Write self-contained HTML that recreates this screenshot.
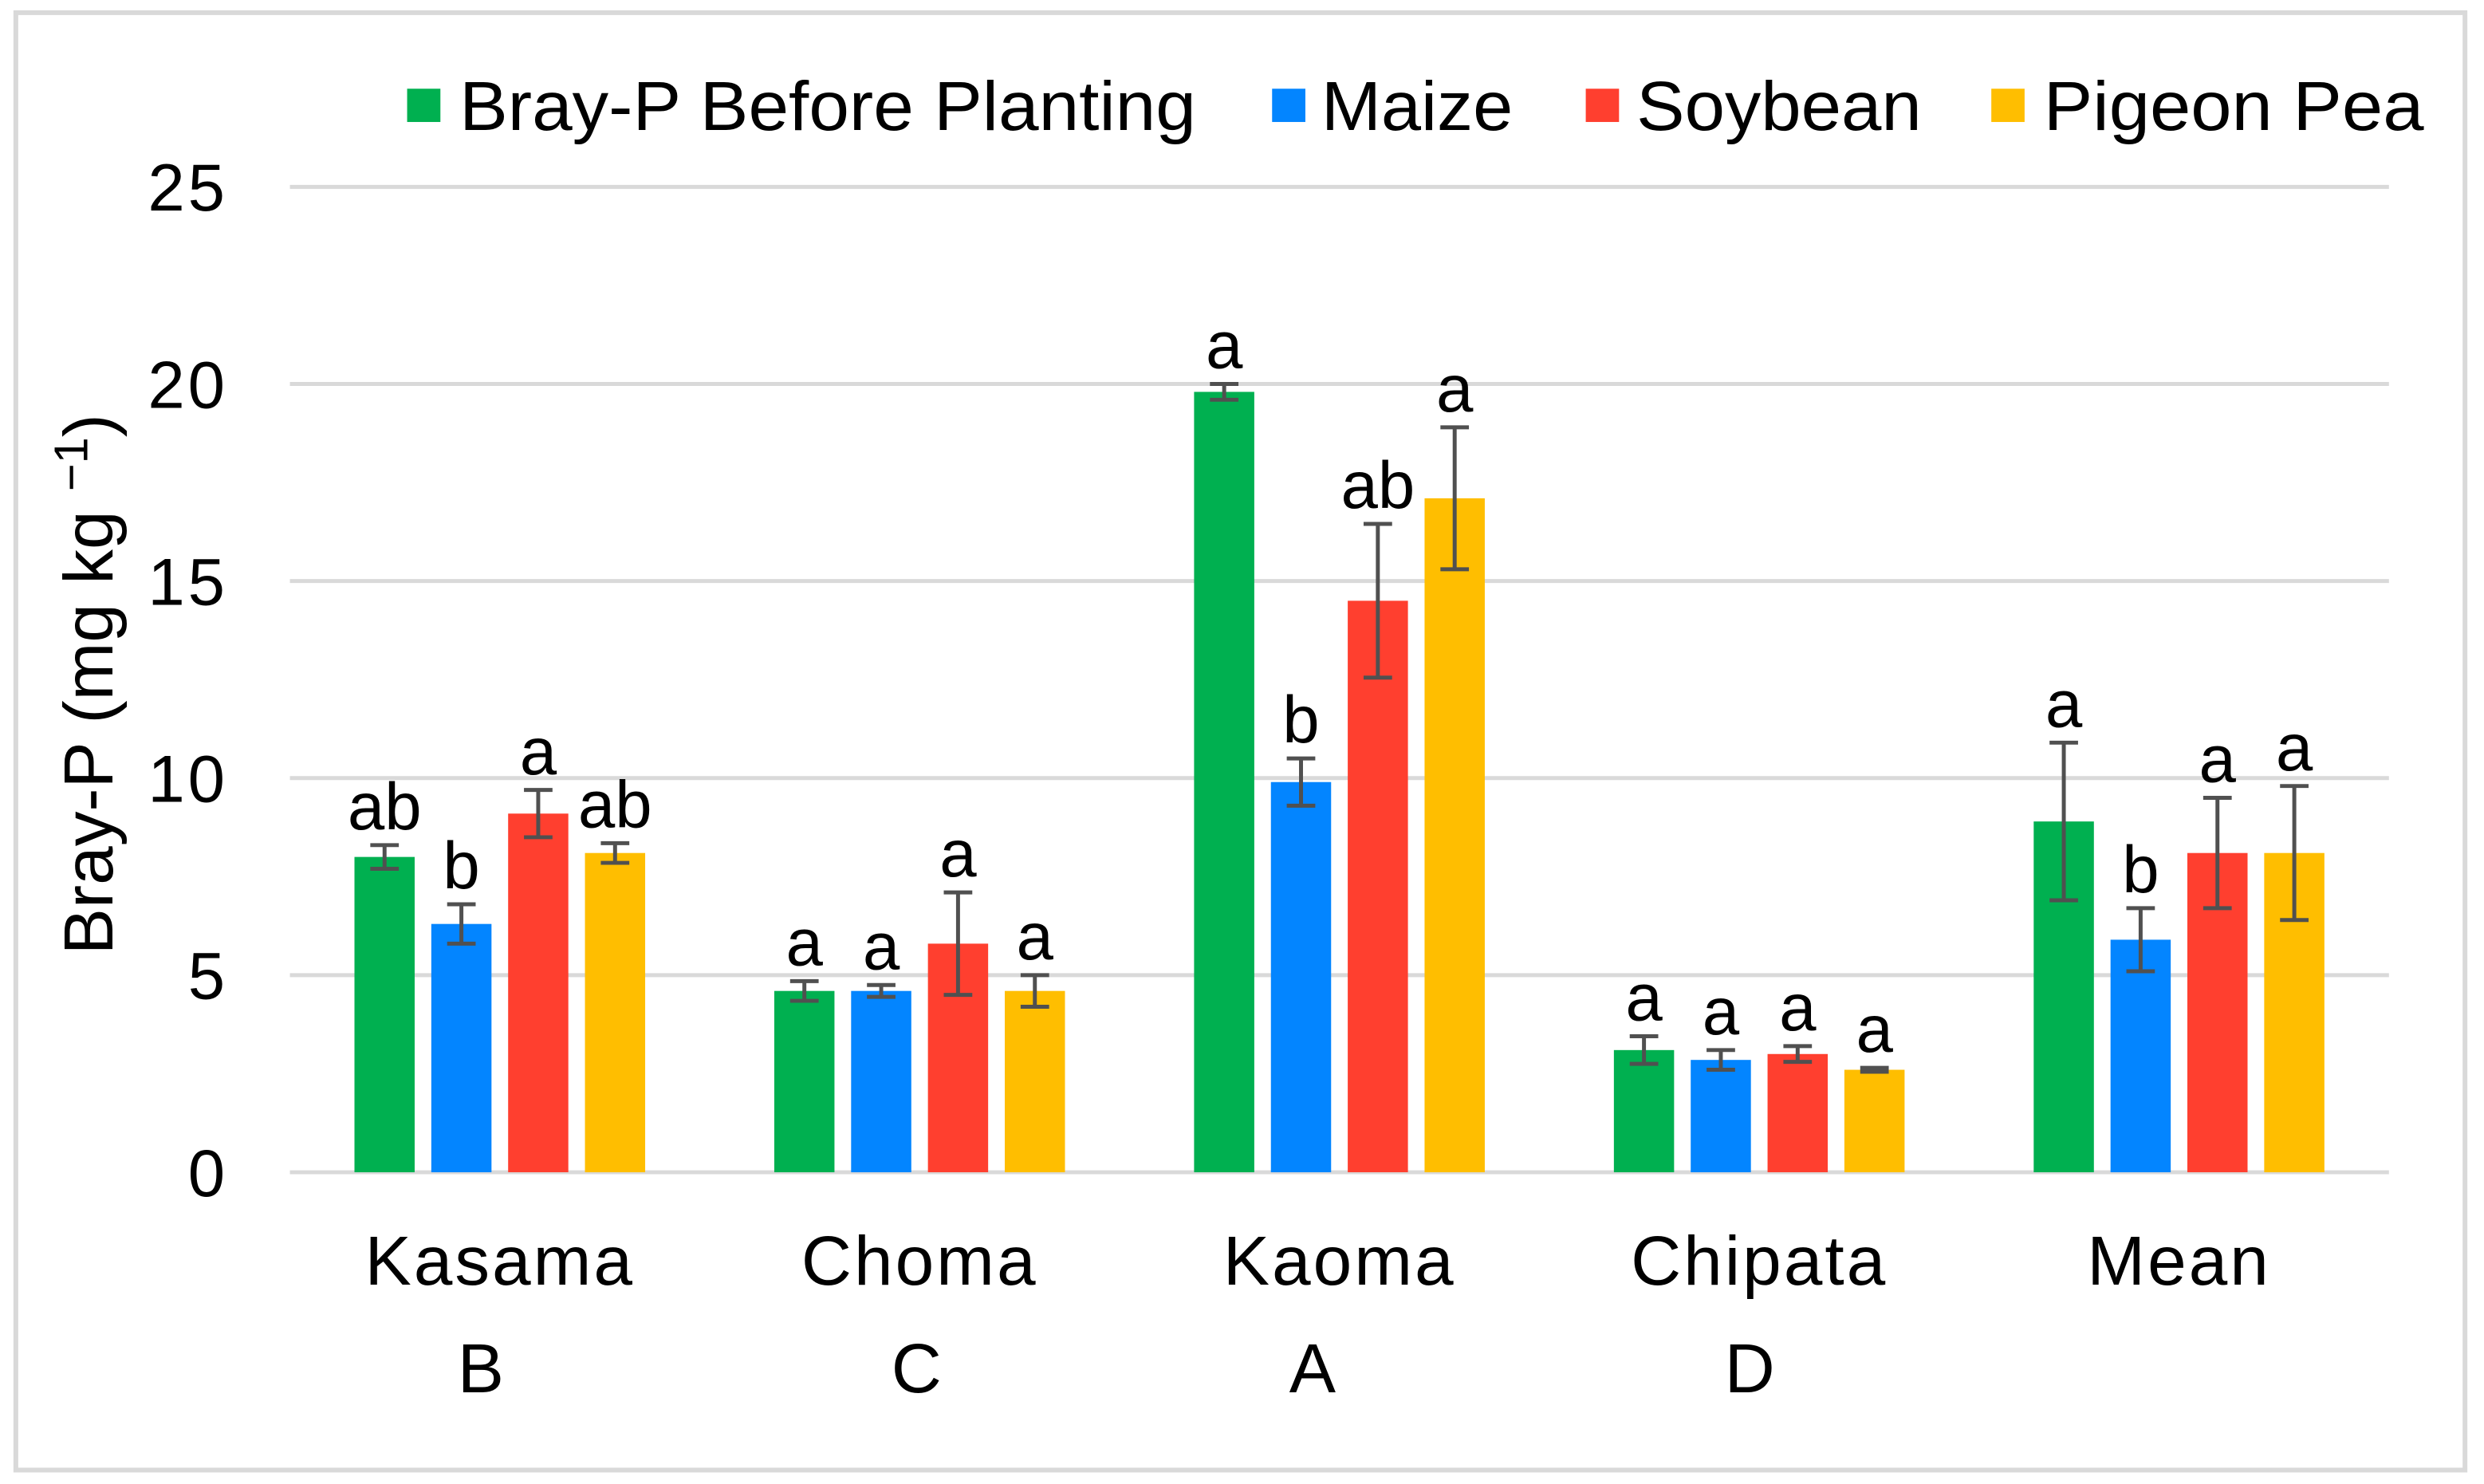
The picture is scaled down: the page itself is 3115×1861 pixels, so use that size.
<!DOCTYPE html>
<html><head><meta charset="utf-8"><style>
html,body{margin:0;padding:0;background:#fff;}
svg{display:block;}
text{font-family:"Liberation Sans",Arial,sans-serif;fill:#000;}
</style></head><body>
<svg id="chart" width="3115" height="1861" viewBox="0 0 1568 936.8" preserveAspectRatio="none" xmlns="http://www.w3.org/2000/svg">
<rect x="10" y="8" width="1546" height="920" fill="#fff" stroke="#d9d9d9" stroke-width="3"/>
<g id="grid"></g><g id="bars"></g><g id="labels"></g>
<g>
 <rect x="257" y="56" width="21" height="21" fill="#00B050"/>
 <text x="290" y="82" font-size="44" textLength="465" lengthAdjust="spacingAndGlyphs">Bray-P Before Planting</text>
 <rect x="803" y="56" width="21" height="21" fill="#0385FF"/>
 <text x="834" y="82" font-size="44" textLength="121" lengthAdjust="spacingAndGlyphs">Maize</text>
 <rect x="1001" y="56" width="21" height="21" fill="#FF3F2F"/>
 <text x="1033" y="82" font-size="44" textLength="180" lengthAdjust="spacingAndGlyphs">Soybean</text>
 <rect x="1257" y="56" width="21" height="21" fill="#FFBE00"/>
 <text x="1290" y="82" font-size="44" textLength="240" lengthAdjust="spacingAndGlyphs">Pigeon Pea</text>
</g>
<text transform="translate(71,432) rotate(-90)" text-anchor="middle" font-size="44">Bray-P (mg kg <tspan font-size="30" dy="-16">−1</tspan><tspan dy="16">)</tspan></text>
</svg>
<script>
const categories = ["Kasama","Choma","Kaoma","Chipata","Mean"];
const siteLetters = ["B","C","A","D",""];
const seriesNames = ["Bray-P Before Planting","Maize","Soybean","Pigeon Pea"];
const beforePlanting = [8.0, 4.6, 19.8, 3.1, 8.9];
const maize = [6.3, 4.6, 9.9, 2.85, 5.9];
const soybean = [9.1, 5.8, 14.5, 3.0, 8.1];
const pigeonPea = [8.1, 4.6, 17.1, 2.6, 8.1];
const errBefore = [0.3, 0.25, 0.2, 0.35, 2.0];
const errMaize = [0.5, 0.15, 0.6, 0.25, 0.8];
const errSoybean = [0.6, 1.3, 1.95, 0.2, 1.4];
const errPigeon = [0.25, 0.4, 1.8, 0.05, 1.7];
const lettersBefore = ["ab","a","a","a","a"];
const lettersMaize = ["b","a","b","a","b"];
const lettersSoybean = ["a","a","ab","a","a"];
const lettersPigeon = ["ab","a","a","a","a"];
const yTicks = [0,5,10,15,20,25];

const siteLetterShift=[-12,-2,-17,-6,0];
const series=[beforePlanting,maize,soybean,pigeonPea];
const errs=[errBefore,errMaize,errSoybean,errPigeon];
const lets=[lettersBefore,lettersMaize,lettersSoybean,lettersPigeon];
const colors=["#00B050","#0385FF","#FF3F2F","#FFBE00"];
const keys=["before","maize","soybean","pigeon-pea"];
const NS="http://www.w3.org/2000/svg";
const x0=183,x1=1508,yBase=740,yTop=118,yMax=25;
const y=v=>yBase-(v/yMax)*(yBase-yTop);
const groupW=(x1-x0)/categories.length;
const cx=i=>x0+groupW*(i+0.5);
const offs=[-1.5,-0.5,0.5,1.5],step=48.5,bw=38;
function mk(tag,attrs,parent){const e=document.createElementNS(NS,tag);for(const k in attrs)e.setAttribute(k,attrs[k]);parent.appendChild(e);return e;}
const grid=document.getElementById('grid'),bars=document.getElementById('bars'),labels=document.getElementById('labels');
yTicks.forEach(t=>{
 const l=mk('line',{x1:x0,x2:x1,y1:y(t),y2:y(t),stroke:'#d9d9d9','stroke-width':2.5},grid);
 
 
 const tx=mk('text',{x:144,y:y(t)+15,'text-anchor':'end','font-size':42,'letter-spacing':2},grid);
 tx.textContent=t;
 
 
});
categories.forEach((c,i)=>{
 const t=mk('text',{x:cx(i),y:811,'text-anchor':'middle','font-size':44,'letter-spacing':1.5},labels);
 t.textContent=c;
 
 
 if(siteLetters[i]){
  const s=mk('text',{x:cx(i)+siteLetterShift[i],y:879,'text-anchor':'middle','font-size':44},labels);
  s.textContent=siteLetters[i];
  
  
 }
 series.forEach((arr,s)=>{
  const bx=cx(i)+offs[s]*step;
  const v=arr[i],e=errs[s][i];
  const r=mk('rect',{x:bx-bw/2,y:y(v),width:bw,height:yBase-y(v),fill:colors[s]},bars);
  
  
  const g=mk('g',{stroke:'#505050','stroke-width':2.5},bars);
  
  
  mk('line',{x1:bx,x2:bx,y1:y(v+e),y2:y(v-e)},g);
  mk('line',{x1:bx-9,x2:bx+9,y1:y(v+e),y2:y(v+e)},g);
  mk('line',{x1:bx-9,x2:bx+9,y1:y(v-e),y2:y(v-e)},g);
  const lt=mk('text',{x:bx,y:y(v+e)-10,'text-anchor':'middle','font-size':42},labels);
  lt.textContent=lets[s][i];
  
  
 });
});
</script>
</body></html>
